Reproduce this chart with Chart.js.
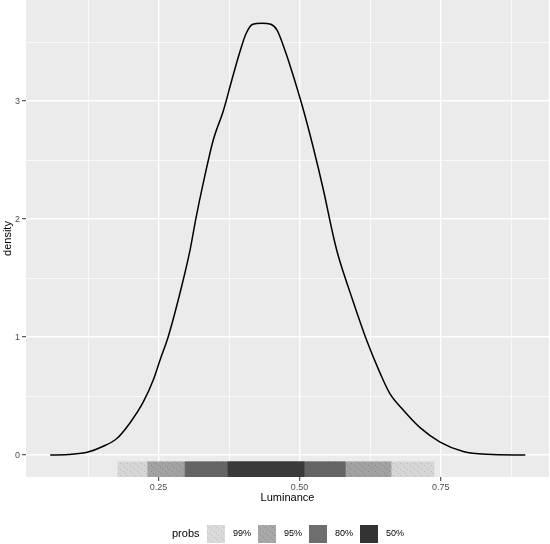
<!DOCTYPE html>
<html>
<head>
<meta charset="utf-8">
<script src="https://cdn.jsdelivr.net/npm/chart.js@4.4.1/dist/chart.umd.min.js"></script>
<style>
  html, body { margin: 0; padding: 0; background: #fff; }
  canvas { display: block; }
</style>
</head>
<body>
<canvas id="chart" width="550" height="544"></canvas>
<script>
// density of Luminance
const curveX = [0.058, 0.09, 0.125, 0.15, 0.176, 0.199, 0.223, 0.241, 0.253, 0.267, 0.291, 0.306, 0.316, 0.329,
  0.347, 0.365, 0.380, 0.395, 0.405, 0.417, 0.433, 0.449, 0.460, 0.474, 0.489, 0.507, 0.524, 0.542, 0.560,
  0.569, 0.590, 0.619, 0.643, 0.660, 0.684, 0.714, 0.749, 0.790, 0.832, 0.900];
const curveY = [0.0, 0.005, 0.025, 0.07, 0.14, 0.27, 0.45, 0.64, 0.81, 1.00, 1.43, 1.74, 2.00, 2.30,
  2.67, 2.92, 3.18, 3.43, 3.57, 3.65, 3.66, 3.65, 3.60, 3.43, 3.21, 2.92, 2.61, 2.25, 1.85,
  1.68, 1.37, 0.97, 0.69, 0.52, 0.38, 0.23, 0.11, 0.03, 0.006, 0.0];

// probability intervals drawn under the curve
const probLabels = ['99%', '95%', '80%', '50%'];
const probLower = [0.178, 0.231, 0.297, 0.373];
const probUpper = [0.738, 0.662, 0.581, 0.508];
const intervalY = -0.122;

// axes
const xGrid = [0.125, 0.25, 0.375, 0.5, 0.625, 0.75, 0.875];
const xLabelled = [0.25, 0.5, 0.75];
const yGrid = [0, 0.5, 1, 1.5, 2, 2.5, 3, 3.5];
const yLabelled = [0, 1, 2, 3];

const FONT = '"Liberation Sans", Arial, sans-serif';

function dotted(base, dot) {
  const c = document.createElement('canvas');
  c.width = 7; c.height = 6;
  const g = c.getContext('2d');
  g.fillStyle = base; g.fillRect(0, 0, 7, 6);
  g.fillStyle = dot;
  g.fillRect(1, 1, 1, 1); g.fillRect(4, 3, 1, 1); g.fillRect(6, 5, 1, 1);
  return g.createPattern(c, 'repeat');
}

const fills = [
  dotted('#d6d6d6', '#b8b8b8'),
  dotted('#a2a2a2', '#888888'),
  '#646464',
  '#3a3a3a',
];
const keyFills = [
  dotted('#dadada', '#c0c0c0'),
  dotted('#a8a8a8', '#8c8c8c'),
  '#6e6e6e',
  '#333333',
];

const isMajor = (list, c) => !!c.tick && list.some(m => Math.abs(m - c.tick.value) < 1e-9);

const panelBg = {
  id: 'panelBg',
  beforeDraw(chart) {
    const { ctx, chartArea: a } = chart;
    ctx.save();
    ctx.fillStyle = '#ebebeb';
    ctx.fillRect(a.left, a.top, a.right - a.left, a.bottom - a.top);
    ctx.restore();
  },
};

const probLegend = {
  id: 'probLegend',
  afterDraw(chart) {
    const ctx = chart.ctx;
    ctx.save();
    ctx.textBaseline = 'middle';
    ctx.fillStyle = '#000';
    ctx.font = `11px ${FONT}`;
    ctx.fillText('probs', 172, 534);
    ctx.font = `9px ${FONT}`;
    probLabels.forEach((lab, i) => {
      const x = 207 + i * 51;
      ctx.fillStyle = keyFills[i];
      ctx.fillRect(x, 525, 18, 18);
      ctx.fillStyle = '#000';
      ctx.fillText(lab, x + 26, 534);
    });
    ctx.restore();
  },
};

const intervalSets = probLabels.map((lab, i) => ({
  type: 'bar',
  label: lab,
  indexAxis: 'y',
  data: [{ x: [probLower[i], probUpper[i]], y: intervalY }],
  backgroundColor: fills[i],
  borderWidth: 0,
  barThickness: 15,
  grouped: false,
  order: 4 - i,
}));

new Chart(document.getElementById('chart'), {
  type: 'line',
  data: {
    datasets: [
      {
        label: 'density',
        data: curveX.map((x, i) => ({ x, y: curveY[i] })),
        borderColor: '#000',
        borderWidth: 1.5,
        pointRadius: 0,
        fill: false,
        cubicInterpolationMode: 'monotone',
        order: 0,
      },
      ...intervalSets,
    ],
  },
  options: {
    responsive: false,
    devicePixelRatio: 1,
    animation: false,
    layout: { padding: { left: 0, right: 1, top: 0, bottom: 39 } },
    plugins: { legend: { display: false }, tooltip: { enabled: false } },
    scales: {
      x: {
        type: 'linear',
        min: 0.0151,
        max: 0.942,
        offset: false,
        afterBuildTicks: s => { s.ticks = xGrid.map(v => ({ value: v })); },
        afterFit: s => { s.height = 28; s.paddingLeft = 0; s.paddingRight = 0; },
        border: { display: false },
        grid: {
          offset: false,
          color: '#fff',
          lineWidth: c => isMajor(xLabelled, c) ? 1.4 : 0.7,
          tickColor: c => isMajor(xLabelled, c) ? '#333' : 'rgba(0,0,0,0)',
          tickWidth: 1,
          tickLength: 4,
        },
        ticks: {
          autoSkip: false,
          maxRotation: 0,
          padding: 1,
          color: '#4d4d4d',
          font: { family: FONT, size: 9 },
          callback: v => xLabelled.some(m => Math.abs(m - v) < 1e-9) ? v.toFixed(2) : '',
        },
        title: {
          display: true,
          text: 'Luminance',
          color: '#000',
          padding: 0,
          font: { family: FONT, size: 11 },
        },
      },
      y: {
        type: 'linear',
        min: -0.186,
        max: 3.856,
        offset: false,
        afterBuildTicks: s => { s.ticks = yGrid.map(v => ({ value: v })); },
        afterFit: s => { s.width = 26; s.paddingTop = 0; s.paddingBottom = 0; },
        border: { display: false },
        grid: {
          offset: false,
          color: '#fff',
          lineWidth: c => isMajor(yLabelled, c) ? 1.4 : 0.7,
          tickColor: c => isMajor(yLabelled, c) ? '#333' : 'rgba(0,0,0,0)',
          tickWidth: 1,
          tickLength: 4,
        },
        ticks: {
          autoSkip: false,
          padding: 2,
          color: '#4d4d4d',
          font: { family: FONT, size: 9 },
          callback: v => yLabelled.includes(v) ? String(v) : '',
        },
        title: {
          display: true,
          text: 'density',
          color: '#000',
          padding: { top: 1.5, bottom: 0 },
          font: { family: FONT, size: 11 },
        },
      },
    },
  },
  plugins: [panelBg, probLegend],
});
</script>
</body>
</html>
